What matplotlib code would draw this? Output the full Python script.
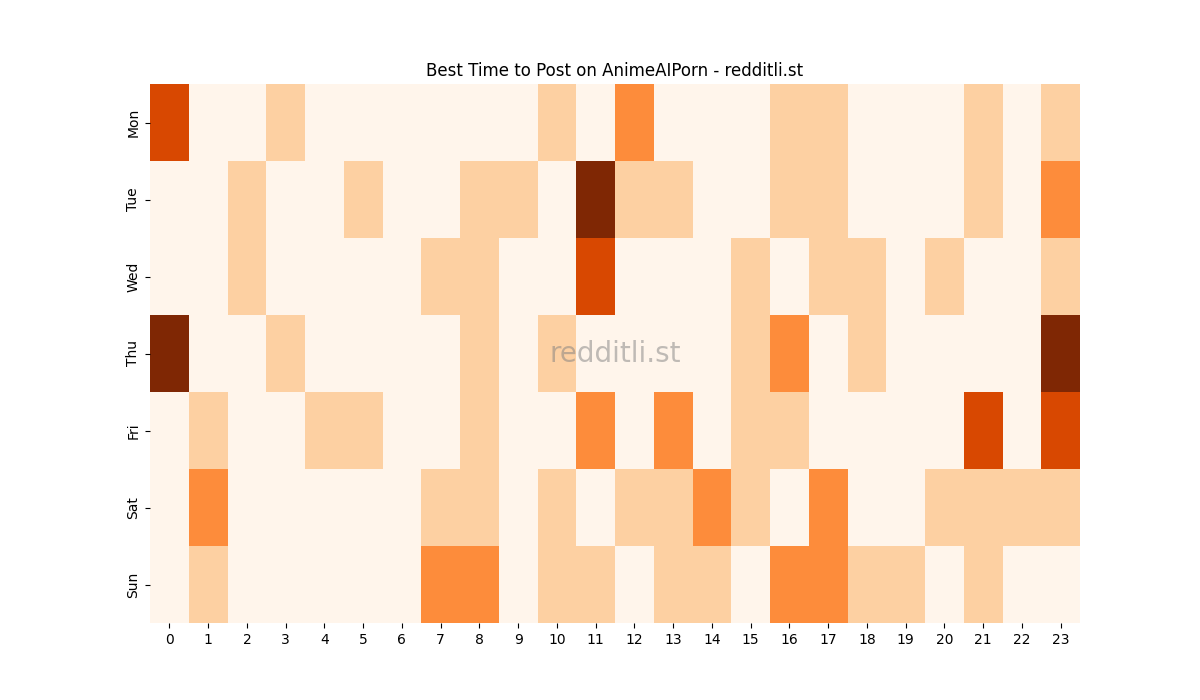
import numpy as np
import matplotlib
matplotlib.use('Agg')
import matplotlib.pyplot as plt
import seaborn as sns

days = ["Mon", "Tue", "Wed", "Thu", "Fri", "Sat", "Sun"]
hours = list(range(24))

mon = [3,0,0,1,0,0,0,0,0,0,1,0,2,0,0,0,1,1,0,0,0,1,0,1]
tue = [0,0,1,0,0,1,0,0,1,1,0,4,1,1,0,0,1,1,0,0,0,1,0,2]
wed = [0,0,1,0,0,0,0,1,1,0,0,3,0,0,0,1,0,1,1,0,1,0,0,1]
thu = [4,0,0,1,0,0,0,0,1,0,1,0,0,0,0,1,2,0,1,0,0,0,0,4]
fri = [0,1,0,0,1,1,0,0,1,0,0,2,0,2,0,1,1,0,0,0,0,3,0,3]
sat = [0,2,0,0,0,0,0,1,1,0,1,0,1,1,2,1,0,2,0,0,1,1,1,1]
sun = [0,1,0,0,0,0,0,2,2,0,1,1,0,1,1,0,2,2,1,1,0,1,0,0]

grid = np.array([mon, tue, wed, thu, fri, sat, sun])

fig = plt.figure(figsize=(12, 7), dpi=100)
ax = fig.add_subplot(111)
sns.heatmap(grid, cmap="Oranges", vmin=0, vmax=4, cbar=False,
            xticklabels=hours, yticklabels=days, ax=ax)
ax.set_title("Best Time to Post on AnimeAIPorn - redditli.st")
ax.text(0.5, 0.5, "redditli.st", transform=ax.transAxes, ha='center',
        va='center', fontsize=20, color='grey', alpha=0.5)
plt.savefig("out.png")
